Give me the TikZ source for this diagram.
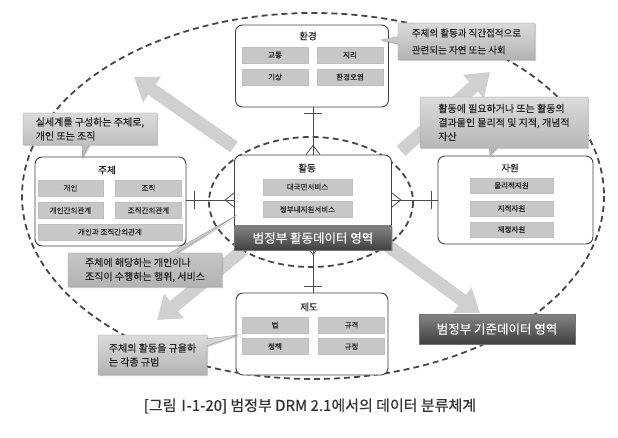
\documentclass[tikz,border=0pt]{standalone}
\usepackage{fontspec}
\setmainfont{Noto Sans CJK KR}
\newfontfamily\notefont{Noto Sans CJK KR}[FakeBold=0.6]
\newfontfamily\tagfont{Noto Sans CJK KR}[FakeBold=0.3]
\usetikzlibrary{arrows.meta,calc,shapes.callouts,shadows}
\definecolor{subgrey}{HTML}{C8C8C8}
\definecolor{arrowgrey}{HTML}{D0D0D0}
\tikzset{
  entbox/.style = {rectangle, draw=black!75, line width=0.9pt, rounded corners=7pt, fill=white},
  enttitle/.style = {font=\tagfont\fontsize{9.5}{11}\selectfont, text=black!85, inner sep=1pt},
  subbox/.style = {rectangle, fill=subgrey, draw=black!25, line width=0.3pt, minimum height=16pt,
                   inner sep=1pt, font=\tagfont\fontsize{7.5}{9}\selectfont, text=black!85,
                   drop shadow={shadow xshift=0.8pt, shadow yshift=-0.8pt, opacity=0.45}},
  note/.style = {rectangle callout, draw=black!40, line width=0.4pt, top color=black!14, bottom color=black!30,
                 align=left, inner xsep=5pt, inner ysep=3pt, text=black!85,
                 font=\notefont\fontsize{10}{14}\selectfont,
                 drop shadow={shadow xshift=1.2pt, shadow yshift=-1.2pt, opacity=0.35}},
  band/.style = {rectangle, top color=black!48, bottom color=black!75, draw=black!55, line width=0.4pt,
                 text=white, font=\tagfont\fontsize{12.5}{14}\selectfont,
                 drop shadow={shadow xshift=1.2pt, shadow yshift=-1.2pt, opacity=0.4}},
  bigarrow/.style = {line width=13pt, draw=arrowgrey, -{Triangle[length=22pt, width=30pt]}},
  zone/.style = {draw=black!72, line width=1.8pt, dash pattern=on 6pt off 4pt},
  erline/.style = {draw=black!70, line width=0.8pt},
}

\begin{document}
\begin{tikzpicture}[x=1pt,y=-1pt]
  \useasboundingbox (0,0) rectangle (618,438);

  % === Data zones ===
  \draw[zone] (313,196) ellipse [x radius=291, y radius=183];
  \draw[zone] (311,202) ellipse [x radius=102, y radius=65];

  % === Big arrows ===
  \coordinate (a1from) at (234,147);  \coordinate (a1to) at (134,77);
  \coordinate (a2from) at (401,151);  \coordinate (a2to) at (490,72);
  \coordinate (a3from) at (243,250);  \coordinate (a3to) at (157,320);
  \coordinate (a4from) at (388,246);  \coordinate (a4to) at (480,313);
  \draw[bigarrow] (a1from) -- (a1to);
  \draw[bigarrow] (a2from) -- (a2to);
  \draw[bigarrow] (a3from) -- (a3to);
  \draw[bigarrow] (a4from) -- (a4to);

  % === Entity boxes ===
  \node[entbox, minimum width=153pt, minimum height=82pt] (envbox) at (312,66) {};
  \node[entbox, minimum width=151pt, minimum height=89pt] (subjbox) at (110.5,201.5) {};
  \node[entbox, minimum width=157pt, minimum height=90pt] (actbox) at (313,200) {};
  \node[entbox, minimum width=155pt, minimum height=88pt] (resbox) at (515.5,200) {};
  \node[entbox, minimum width=152pt, minimum height=82pt] (instbox) at (312,334) {};

  % Relations (bar at the outer entity, crow's foot at 활동)
  \draw[erline] (actbox.north) -- (actbox.north |- envbox.south);
  \draw[erline] (actbox.west) -- (actbox.west -| subjbox.east);
  \draw[erline] (actbox.east) -- (actbox.east -| resbox.west);
  \draw[erline] (actbox.south) -- (actbox.south |- instbox.north);

  \draw[erline] ($(actbox.north |- envbox.south)+(-9,6)$) -- ++(18,0);
  \draw[erline] ($(actbox.west -| subjbox.east)+(8,-9)$) -- ++(0,18);
  \draw[erline] ($(actbox.east -| resbox.west)+(-6,-9)$) -- ++(0,18);
  \draw[erline] ($(actbox.south |- instbox.north)+(-9,-6)$) -- ++(18,0);

  \draw[erline] ($(actbox.north)+(-7,0)$) -- ($(actbox.north)+(0,-9)$) -- ($(actbox.north)+(7,0)$);
  \draw[erline] ($(actbox.west)+(0,-7)$) -- ($(actbox.west)+(-9,0)$) -- ($(actbox.west)+(0,7)$);
  \draw[erline] ($(actbox.east)+(0,-7)$) -- ($(actbox.east)+(9,0)$) -- ($(actbox.east)+(0,7)$);
  \draw[erline] ($(actbox.south)+(-7,0)$) -- ($(actbox.south)+(0,9)$) -- ($(actbox.south)+(7,0)$);

  % 환경
  \node[enttitle] (envtitle) at (308,36) {환경};
  \node[subbox, minimum width=66pt] (envtraffic) at (275,55) {교통};
  \node[subbox, minimum width=66pt] (envgeo) at (350,55) {지리};
  \node[subbox, minimum width=66pt] (envweather) at (275,77) {기상};
  \node[subbox, minimum width=66pt] (envpollution) at (350,77) {환경오염};

  % 주체
  \node[enttitle] (subjtitle) at (107,170) {주체};
  \node[subbox, minimum width=65pt] (subjperson) at (70.5,188) {개인};
  \node[subbox, minimum width=66pt] (subjorg) at (148.5,188) {조직};
  \node[subbox, minimum width=65pt] (subjpp) at (70.5,210.5) {개인간의관계};
  \node[subbox, minimum width=66pt] (subjoo) at (148.5,210.5) {조직간의관계};
  \node[subbox, minimum width=144pt] (subjpo) at (110,232) {개인과 조직간의관계};

  % 활동
  \node[enttitle] (acttitle) at (307,168) {활동};
  \node[subbox, minimum width=89pt] (actpublic) at (307.5,187) {대국민서비스};
  \node[subbox, minimum width=89pt] (actgov) at (307.5,209.5) {정부내지원서비스};
  \node[band, minimum width=157pt, minimum height=24pt] (actband) at (313,238) {범정부 활동데이터 영역};

  % 자원
  \node[enttitle] (restitle) at (510,168) {자원};
  \node[subbox, minimum width=83pt, minimum height=15pt] (resphys) at (511.5,185.5) {물리적자원};
  \node[subbox, minimum width=83pt, minimum height=15pt] (resknow) at (511.5,208.5) {지적자원};
  \node[subbox, minimum width=83pt, minimum height=15pt] (resfin) at (511.5,229.5) {재정자원};

  % 제도
  \node[enttitle] (insttitle) at (309,307) {제도};
  \node[subbox, minimum width=66pt] (instlaw) at (275,325) {법};
  \node[subbox, minimum width=66pt] (inststd) at (351.5,325) {규격};
  \node[subbox, minimum width=66pt] (instpolicy) at (275,346.5) {정책};
  \node[subbox, minimum width=66pt] (instrule) at (351.5,346.5) {규정};

  % === Reference data band ===
  \node[band, minimum width=156pt, minimum height=30pt] (stdband) at (497,329) {범정부 기준데이터 영역};

  % === Notes ===
  \node[note, font=\notefont\fontsize{9.5}{17}\selectfont, minimum width=137pt, minimum height=37pt,
        callout absolute pointer={(381,40)}] (envnote) at (466.5,41.5)
    {주체의 활동과 직간접적으로\\관련되는 자연 또는 사회};
  \node[note, minimum width=134pt, minimum height=32pt,
        callout absolute pointer={(82,158)}] (subjnote) at (90,129)
    {실세계를 구성하는 주체로,\\개인 또는 조직};
  \node[note, minimum width=168pt, minimum height=51pt,
        callout absolute pointer={(490,155)}] (resnote) at (504,122.5)
    {활동에 필요하거나 또는 활동의\\결과물인 물리적 및 지적, 개념적\\자산};
  \node[note, minimum width=154pt, minimum height=34pt,
        callout absolute pointer={(237,215)}] (actnote) at (145,270)
    {주체에 해당하는 개인이나\\조직이 수행하는 행위, 서비스};
  \node[note, minimum width=109pt, minimum height=40pt,
        callout absolute pointer={(238,335)}] (instnote) at (152.5,355)
    {주체의 활동을 규율하\\는 각종 규범};

  % Caption
  \node[font=\notefont\fontsize{15}{17}\selectfont, text=black!80] (caption) at (310,406)
    {[그림 \kern-0.25emⅠ\kern-0.3em-1-20] 범정부 DRM 2.1에서의 데이터 분류체계};

\end{tikzpicture}
\end{document}
